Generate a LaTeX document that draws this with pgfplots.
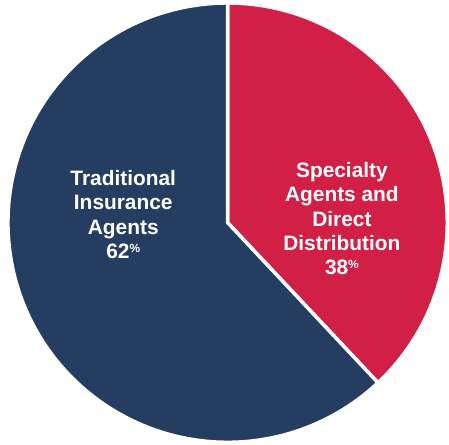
\documentclass[border=0pt]{standalone}
\usepackage{pgfplots}
\pgfplotsset{compat=1.18}
\usepackage{fontspec}
\setmainfont{Liberation Sans}
\definecolor{navy}{RGB}{37,61,96}
\definecolor{crimson}{RGB}{210,31,69}

% shares in percent
\def\shareSpec{38}
\def\shareTrad{62}
\pgfmathsetmacro\cut{90-3.6*\shareSpec}
\newcommand{\pct}{{\fontsize{12}{12}\selectfont\raisebox{6pt}{\%}}}

\begin{document}
\begin{tikzpicture}
\begin{axis}[
  scale only axis, width=449pt, height=445pt,
  xmin=-229, xmax=220, ymin=-221, ymax=224,
  hide axis, clip=false,
]
\addplot[fill=crimson, draw=white, line width=3.5pt, domain=90:\cut, samples=120]
  ({221*cos(x)},{221*sin(x)}) -- (axis cs:0,0) -- cycle;
\addplot[fill=navy, draw=white, line width=3.5pt, domain=\cut:-270, samples=200]
  ({221*cos(x)},{221*sin(x)}) -- (axis cs:0,0) -- cycle;
\node[align=center, text=white, font=\bfseries\fontsize{21}{24.5}\selectfont]
  at (axis cs:-105,8) {Traditional\\Insurance\\Agents\\\shareTrad\pct};
\node[align=center, text=white, font=\bfseries\fontsize{21}{24.5}\selectfont]
  at (axis cs:115,4) {Specialty\\Agents and\\Direct\\Distribution\\\shareSpec\pct};
\end{axis}
\path (current axis.south west) rectangle (current axis.north east);
\end{tikzpicture}
\end{document}
